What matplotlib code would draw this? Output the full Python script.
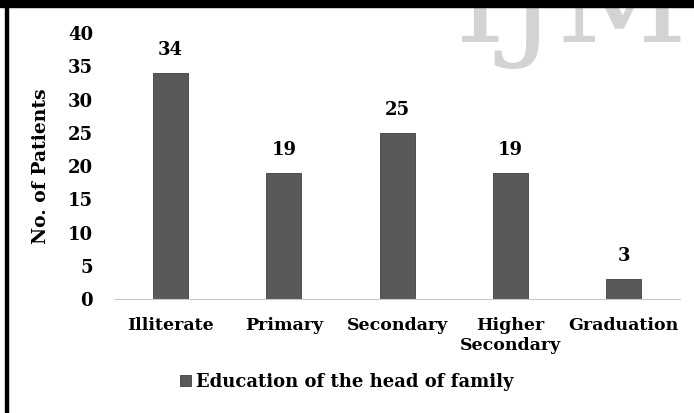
import matplotlib.pyplot as plt
from matplotlib.patches import Rectangle

categories = ['Illiterate', 'Primary', 'Secondary', 'Higher\nSecondary', 'Graduation']
patients = [34, 19, 25, 19, 3]
series_name = 'Education of the head of family'

bar_color = '#595959'
font = 'DejaVu Serif'

fig = plt.figure(figsize=(6.94, 4.13), dpi=100)
ax = fig.add_axes([0.1643, 0.276, 0.8157, 0.644])

bars = ax.bar(categories, patients, width=0.31, color=bar_color,
              edgecolor='#404040', linewidth=0.6, label=series_name)
for rect, v in zip(bars, patients):
    ax.annotate(str(v), (rect.get_x() + rect.get_width() / 2, v),
                xytext=(0, 10), textcoords='offset points', ha='center', va='bottom',
                fontsize=13, fontweight='bold', family=font)

ax.set_ylim(0, 40)
ax.set_xlim(-0.5, len(categories) - 0.5)
ax.set_yticks(range(0, 41, 5))
for s in ['top', 'right', 'left']:
    ax.spines[s].set_visible(False)
ax.spines['bottom'].set_color('#c8c8c8')
ax.spines['bottom'].set_linewidth(0.8)
ax.tick_params(axis='both', length=0)
ax.tick_params(axis='y', pad=15)
ax.tick_params(axis='x', pad=13)
for lab in ax.get_yticklabels():
    lab.set_fontfamily(font)
    lab.set_fontweight('bold')
    lab.set_fontsize(13)
for lab in ax.get_xticklabels():
    lab.set_fontfamily(font)
    lab.set_fontweight('bold')
    lab.set_fontsize(12.5)
    lab.set_linespacing(1.25)

ax.set_ylabel('No. of Patients', fontsize=13.5, fontweight='bold', family=font, labelpad=13)

fig.legend(loc='center', bbox_to_anchor=(0.5, 0.075), frameon=False,
           prop={'family': font, 'weight': 'bold', 'size': 13},
           handlelength=0.6, handleheight=0.6, handletextpad=0.3)

# watermark and frame
fig.text(0.655, 0.898, 'IJMS', fontsize=92, color='#d3d3d3', family=font,
         ha='left', va='baseline', zorder=0)
fig.patches.append(Rectangle((0, 413 - 7), 694, 7, transform=None,
                             color='black', zorder=10))
fig.patches.append(Rectangle((5, 0), 2.5, 413, transform=None,
                             color='black', zorder=10))

fig.savefig('out.png', dpi=100)
